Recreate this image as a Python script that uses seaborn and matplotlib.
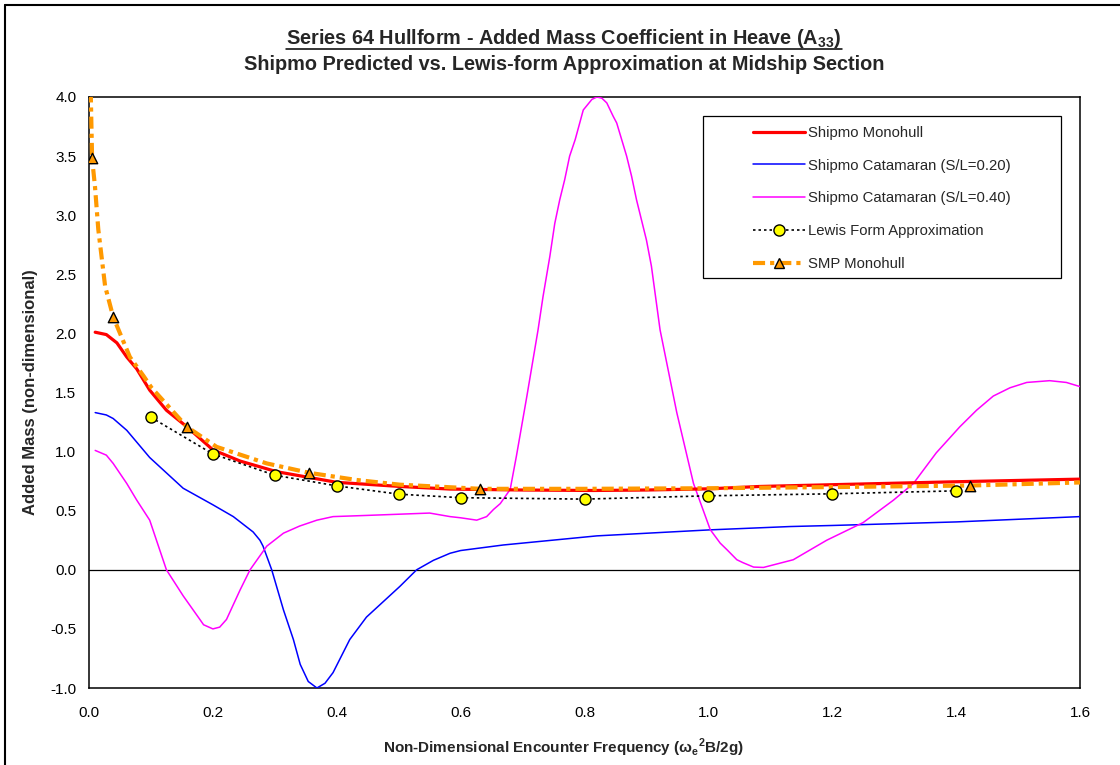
import matplotlib
matplotlib.use("Agg")
import matplotlib.pyplot as plt
import seaborn as sns
from matplotlib.lines import Line2D
from matplotlib.patches import Rectangle
from matplotlib.ticker import FormatStrFormatter

# --- data ---
mono_x = [0.01, 0.028, 0.045, 0.061, 0.077, 0.098, 0.125, 0.158, 0.2, 0.244, 0.303, 0.4,
          0.502, 0.583, 0.7, 0.814, 0.9, 1.0, 1.083, 1.2, 1.4, 1.6]
mono_y = [2.01, 1.99, 1.92, 1.80, 1.70, 1.52, 1.35, 1.21, 1.015, 0.92, 0.83, 0.74,
          0.705, 0.683, 0.675, 0.671, 0.675, 0.685, 0.705, 0.72, 0.745, 0.767]

cat20_x = [0.01, 0.028, 0.039, 0.061, 0.098, 0.152, 0.2, 0.233, 0.265, 0.276, 0.281, 0.295,
           0.314, 0.33, 0.341, 0.354, 0.368, 0.381, 0.394, 0.421, 0.448, 0.502, 0.529, 0.556,
           0.583, 0.6, 0.669, 0.82, 1.003, 1.132, 1.2, 1.4, 1.6]
cat20_y = [1.33, 1.31, 1.28, 1.18, 0.95, 0.69, 0.55, 0.45, 0.32, 0.25, 0.2, 0.0,
           -0.34, -0.59, -0.80, -0.945, -1.0, -0.96, -0.87, -0.59, -0.40, -0.14, 0.0, 0.08,
           0.14, 0.163, 0.21, 0.287, 0.338, 0.366, 0.375, 0.405, 0.45]

cat40_x = [0.01, 0.028, 0.039, 0.061, 0.077, 0.098, 0.125, 0.152, 0.179, 0.185, 0.2, 0.211,
           0.222, 0.244, 0.26, 0.287, 0.314, 0.34, 0.368, 0.394, 0.448, 0.55, 0.583, 0.6,
           0.626, 0.642, 0.653, 0.664, 0.68, 0.69, 0.707, 0.725, 0.733, 0.744, 0.752, 0.76,
           0.768, 0.776, 0.785, 0.798, 0.812, 0.82, 0.828, 0.836, 0.846, 0.852, 0.868, 0.876,
           0.884, 0.892, 0.9, 0.908, 0.922, 0.949, 0.976, 1.003, 1.019, 1.03, 1.046, 1.056,
           1.073, 1.089, 1.137, 1.191, 1.25, 1.299, 1.331, 1.368, 1.406, 1.433, 1.46, 1.487,
           1.514, 1.551, 1.578, 1.6]
cat40_y = [1.01, 0.97, 0.90, 0.73, 0.59, 0.42, 0.0, -0.22, -0.42, -0.465, -0.50, -0.485,
           -0.42, -0.17, 0.0, 0.2, 0.31, 0.37, 0.42, 0.45, 0.46, 0.48, 0.45, 0.44,
           0.42, 0.45, 0.51, 0.56, 0.68, 0.96, 1.47, 2.03, 2.31, 2.65, 2.93, 3.13,
           3.30, 3.50, 3.64, 3.89, 3.98, 4.0, 3.99, 3.95, 3.84, 3.78, 3.50, 3.33,
           3.13, 2.96, 2.79, 2.57, 2.03, 1.33, 0.73, 0.34, 0.226, 0.17, 0.085, 0.06,
           0.023, 0.02, 0.085, 0.25, 0.40, 0.59, 0.73, 0.99, 1.21, 1.35, 1.47, 1.54,
           1.585, 1.60, 1.585, 1.55]

lewis_x = [0.1, 0.2, 0.3, 0.4, 0.5, 0.6, 0.8, 1.0, 1.2, 1.4]
lewis_y = [1.29, 0.98, 0.80, 0.71, 0.64, 0.61, 0.598, 0.626, 0.643, 0.668]

smp_x = [0.001, 0.005, 0.0097, 0.015, 0.026, 0.039, 0.066, 0.088, 0.101, 0.158, 0.206, 0.287,
         0.356, 0.432, 0.502, 0.577, 0.632, 0.8, 1.0, 1.2, 1.423, 1.6]
smp_y = [4.5, 3.48, 3.24, 2.88, 2.40, 2.14, 1.80, 1.64, 1.54, 1.21, 1.04, 0.90,
         0.82, 0.76, 0.72, 0.70, 0.685, 0.685, 0.69, 0.70, 0.713, 0.739]
smp_mark_x = [0.005, 0.039, 0.158, 0.356, 0.632, 1.423]
smp_mark_y = [3.48, 2.14, 1.21, 0.82, 0.685, 0.713]

labels = ["Shipmo Monohull", "Shipmo Catamaran (S/L=0.20)", "Shipmo Catamaran (S/L=0.40)",
          "Lewis Form Approximation", "SMP Monohull"]

RED, BLUE, MAGENTA, ORANGE, YELLOW = "#FF0000", "#0000FF", "#FF00FF", "#FF9900", "#FFFF00"

sns.set_style("white")
plt.rcParams["font.family"] = ["Liberation Sans", "DejaVu Sans"]
plt.rcParams["mathtext.fontset"] = "custom"
plt.rcParams["mathtext.rm"] = "Liberation Sans"
plt.rcParams["mathtext.bf"] = "Liberation Sans:bold"
plt.rcParams["axes.unicode_minus"] = False

fig = plt.figure(figsize=(11.2, 7.65), dpi=100)
ax = fig.add_axes([89 / 1120, 1 - 688 / 765, 991 / 1120, 591 / 765])

# zero line
ax.axhline(0, color="black", lw=0.9, zorder=1)

sns.lineplot(x=mono_x, y=mono_y, ax=ax, color=RED, lw=2.3, zorder=4)
sns.lineplot(x=cat20_x, y=cat20_y, ax=ax, color=BLUE, lw=1.1, zorder=3)
sns.lineplot(x=cat40_x, y=cat40_y, ax=ax, color=MAGENTA, lw=1.1, zorder=3)
sns.lineplot(x=lewis_x, y=lewis_y, ax=ax, color="black", lw=1.2, zorder=5)
ax.lines[-1].set_dashes([1.5, 1.8])
sns.lineplot(x=smp_x, y=smp_y, ax=ax, color=ORANGE, lw=3.0, zorder=6)
ax.lines[-1].set_dashes([2.9, 1.2, 1.0, 1.2])
ax.lines[-1].set_dash_capstyle("butt")
for ln in ax.lines:
    ln.set_solid_joinstyle("round")

sns.scatterplot(x=lewis_x, y=lewis_y, ax=ax, marker="o", s=64, color=YELLOW,
                edgecolor="black", linewidth=1.0, zorder=7)
sns.scatterplot(x=smp_mark_x, y=smp_mark_y, ax=ax, marker="^", s=56, color=ORANGE,
                edgecolor="black", linewidth=1.0, zorder=8)

ax.set_xlim(0, 1.6)
ax.set_ylim(-1.0, 4.0)
ax.set_xticks([0.0, 0.2, 0.4, 0.6, 0.8, 1.0, 1.2, 1.4, 1.6])
ax.set_yticks([-1.0, -0.5, 0.0, 0.5, 1.0, 1.5, 2.0, 2.5, 3.0, 3.5, 4.0])
ax.xaxis.set_major_formatter(FormatStrFormatter("%.1f"))
ax.yaxis.set_major_formatter(FormatStrFormatter("%.1f"))
ax.tick_params(axis="both", direction="out", length=4, width=1, color="black",
               labelsize=11, labelcolor="black")
ax.tick_params(axis="x", pad=9)
ax.tick_params(axis="y", pad=5)
for sp in ax.spines.values():
    sp.set_visible(True)
    sp.set_color("black")
    sp.set_linewidth(1.1)

ax.set_xlabel(r"Non-Dimensional Encounter Frequency (ω$_\mathbf{e}$$^\mathbf{2}$B/2g)",
              fontsize=11, fontweight="bold")
ax.set_ylabel("Added Mass (non-dimensional)", fontsize=12, fontweight="bold")
ax.xaxis.set_label_coords(0.479, -0.083)
ax.yaxis.set_label_coords(-0.051, 0.5)

# legend box + entries
ax.add_patch(Rectangle((0.6196, 0.694), 0.3614, 0.274, transform=ax.transAxes,
                       facecolor="white", edgecolor="black", lw=0.9, zorder=9))
handles = [
    Line2D([], [], color=RED, lw=2.3),
    Line2D([], [], color=BLUE, lw=1.1),
    Line2D([], [], color=MAGENTA, lw=1.1),
    Line2D([], [], color="black", lw=1.2, dashes=[1.5, 1.8], marker="o",
           markersize=8, markerfacecolor=YELLOW, markeredgecolor="black"),
    Line2D([], [], color=ORANGE, lw=3.0, dashes=[2.9, 1.2, 1.0, 1.2], marker="^",
           markersize=7.5, markerfacecolor=ORANGE, markeredgecolor="black"),
]
leg = ax.legend(handles, labels, loc="upper left", bbox_to_anchor=(0.670, 0.951),
                frameon=False, fontsize=10.7, handlelength=3.5, handletextpad=0.2,
                labelspacing=1.26, borderpad=0, borderaxespad=0)
leg.set_zorder(10)

# titles
t1 = fig.text(0.5036, 0.950, r"Series 64 Hullform - Added Mass Coefficient in Heave (A$_\mathbf{33}$)",
              ha="center", va="center", fontsize=14.3, fontweight="bold")
fig.text(0.5036, 0.916, "Shipmo Predicted vs. Lewis-form Approximation at Midship Section",
         ha="center", va="center", fontsize=14.3, fontweight="bold")

# underline the first title line
fig.canvas.draw()
bb = t1.get_window_extent().transformed(fig.transFigure.inverted())
fig.add_artist(Line2D([bb.x0, bb.x1], [bb.y0 + 0.001, bb.y0 + 0.001], color="black",
                      lw=1.1, transform=fig.transFigure))

# outer chart frame (left and top edges visible in the reference)
fig.add_artist(Line2D([5 / 1120, 5 / 1120], [0, 1 - 5 / 765], color="black", lw=1.5,
                      transform=fig.transFigure))
fig.add_artist(Line2D([5 / 1120, 1], [1 - 5 / 765, 1 - 5 / 765], color="black", lw=1.5,
                      transform=fig.transFigure))

fig.savefig("out.png", dpi=100)
